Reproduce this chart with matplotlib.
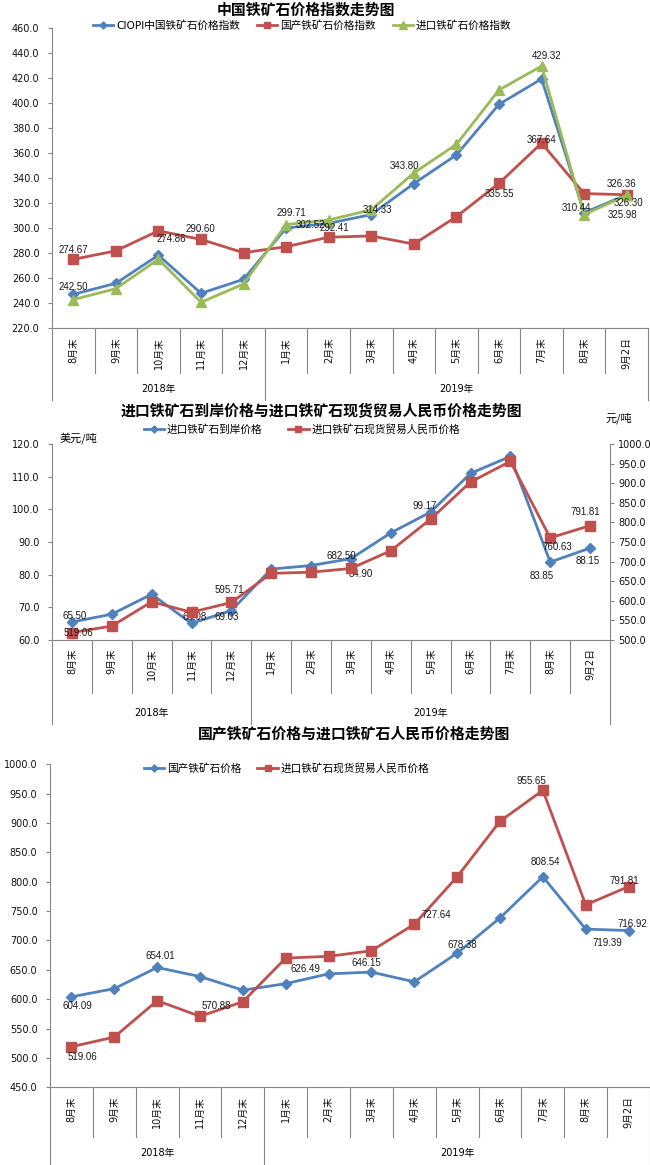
import matplotlib
matplotlib.use('Agg')
import matplotlib.pyplot as plt
from matplotlib.transforms import blended_transform_factory
from matplotlib.ticker import FormatStrFormatter

plt.rcParams['font.family'] = ['DejaVu Sans', 'Noto Sans CJK SC']

W, H = 650, 1165
BLUE = '#4F81BD'
RED = '#C0504D'
GREEN = '#9BBB59'
GRAY = '#868686'

# ---- data ----
months = ['8月末', '9月末', '10月末', '11月末', '12月末', '1月末', '2月末', '3月末',
          '4月末', '5月末', '6月末', '7月末', '8月末', '9月2日']
years = ['2018年', '2019年']

# chart 1: price indices
ciopi = [246.7, 255.5, 278.0, 247.5, 258.7, 299.71, 303.5, 310.5, 335.3, 358.2, 398.7, 419.0, 312.0, 326.30]
domestic_idx = [274.67, 281.5, 297.5, 290.60, 280.0, 284.8, 292.41, 293.4, 286.9, 308.8, 335.55, 367.64, 327.3, 326.36]
import_idx = [242.50, 251.2, 274.86, 240.3, 255.0, 302.52, 306.2, 314.33, 343.80, 366.7, 410.2, 429.32, 310.44, 325.98]

# chart 2/3: prices
cif_usd = [65.50, 67.9, 74.0, 65.08, 69.03, 81.7, 82.8, 84.90, 92.8, 99.17, 111.0, 116.2, 83.85, 88.15]
import_rmb = [519.06, 535.5, 597.5, 570.88, 595.71, 670.0, 673.0, 682.50, 727.64, 808.5, 903.0, 955.65, 760.63, 791.81]
domestic_rmb = [604.09, 618.0, 654.01, 638.6, 615.4, 626.49, 643.2, 646.15, 629.6, 678.38, 738.5, 808.54, 719.39, 716.92]

# which points carry a data label: (series, index, dx px, dy px)
labels1 = [('dom', 0, 0, -9), ('imp', 0, 0, -13), ('imp', 2, 13, -20), ('dom', 3, -1, -10),
           ('ciopi', 5, 5, -15), ('imp', 5, 24, 0), ('dom', 6, 6, -9), ('imp', 7, 6, 0),
           ('imp', 8, -9, -7), ('dom', 10, 0, 11), ('dom', 11, 0, -3), ('imp', 11, 5, -10),
           ('imp', 12, -8, -7), ('dom', 13, -5, -11), ('ciopi', 13, 2, 8), ('imp', 13, -4, 20)]
labels2 = [('usd', 0, 3, -6), ('rmb', 0, 6, 0), ('usd', 3, 3, -6), ('usd', 4, -5, 6),
           ('rmb', 4, -2, -12), ('rmb', 7, -10, -12), ('usd', 7, 10, 15), ('usd', 9, -6, -6),
           ('usd', 12, -9, 14), ('rmb', 12, 7, 9), ('usd', 13, -2, 13), ('rmb', 13, -5, -14)]
labels3 = [('dom', 0, 6, 9), ('imp', 0, 11, 10), ('dom', 2, 3, -11), ('imp', 3, 16, -10),
           ('dom', 5, 20, -15), ('dom', 7, -5, -9), ('imp', 8, 22, -9), ('dom', 9, 5, -8),
           ('dom', 11, 3, -15), ('imp', 11, -11, -9), ('dom', 12, 22, 14), ('dom', 13, 4, -7),
           ('imp', 13, -4, -6)]

fig = plt.figure(figsize=(W / 100, H / 100), dpi=100)


def rect(l, r, t, b):
    return [l / W, 1 - b / H, (r - l) / W, (b - t) / H]


def fy(px):
    return 1 - px / H


def style_axis(ax, lo, hi, step):
    ax.set_xlim(-0.5, len(months) - 0.5)
    ax.set_ylim(lo, hi)
    ax.set_yticks(range(lo, hi + 1, step))
    ax.yaxis.set_major_formatter(FormatStrFormatter('%.1f'))
    for s in ['top', 'right']:
        ax.spines[s].set_visible(False)
    for s in ['left', 'bottom']:
        ax.spines[s].set_color(GRAY)
        ax.spines[s].set_linewidth(0.8)
    ax.tick_params(axis='x', bottom=False, labelbottom=False)
    ax.tick_params(axis='y', direction='out', length=3, width=0.8, color=GRAY,
                   labelsize=7, pad=6, labelcolor='#111111')
    ax.patch.set_alpha(0)


def category_table(ax, top, mid, bottom, label_top, year_y):
    tr = blended_transform_factory(ax.transData, fig.transFigure)
    n = len(months)
    for k in range(n - 1):
        x = k + 0.5
        end = bottom if k == 4 else mid
        ax.plot([x, x], [fy(top), fy(end)], transform=tr, color=GRAY, lw=0.8, clip_on=False)
    for x in [-0.5, n - 0.5]:
        ax.plot([x, x], [fy(top), fy(bottom)], transform=tr, color=GRAY, lw=0.8, clip_on=False)
    for i, m in enumerate(months):
        ax.text(i, fy(label_top), m, transform=tr, rotation=90, ha='center', va='top',
                fontsize=7, color='#111111')
    ax.text(2, fy(year_y), years[0], transform=tr, ha='center', va='center', fontsize=7)
    ax.text(9, fy(year_y), years[1], transform=tr, ha='center', va='center', fontsize=7)


def data_labels(ax, series, items):
    for key, i, dx, dy in items:
        v = series[key][i]
        ax.annotate('%.2f' % v, xy=(i, v), xytext=(dx, -dy), textcoords='offset pixels',
                    ha='center', va='center', fontsize=7, family='Liberation Sans',
                    color='#1a1a1a', zorder=10)


x = list(range(len(months)))

# ---------- chart 1 ----------
ax1 = fig.add_axes(rect(52, 648, 27.7, 327.7))
style_axis(ax1, 220, 460, 20)
l1, = ax1.plot(x, ciopi, color=BLUE, lw=2, marker='D', ms=4.8, label='CIOPI中国铁矿石价格指数')
l2, = ax1.plot(x, domestic_idx, color=RED, lw=2, marker='s', ms=6.5, label='国产铁矿石价格指数')
l3, = ax1.plot(x, import_idx, color=GREEN, lw=2, marker='^', ms=7, label='进口铁矿石价格指数')
data_labels(ax1, {'ciopi': ciopi, 'dom': domestic_idx, 'imp': import_idx}, labels1)
category_table(ax1, 327.7, 373, 400, 337, 389)
fig.text(306 / W, fy(9.5), '中国铁矿石价格指数走势图', ha='center', va='center',
         fontsize=10.7, fontweight='bold', family=['Noto Sans CJK SC'])
fig.legend(handles=[l1, l2, l3], loc='center left', bbox_to_anchor=(93 / W, fy(25.5)),
           ncol=3, frameon=False, fontsize=7.7, handlelength=1.9, handletextpad=0.25,
           columnspacing=1.6, borderpad=0, borderaxespad=0, markerscale=0.75)

# ---------- chart 2 ----------
ax2 = fig.add_axes(rect(52, 610, 444, 640))
style_axis(ax2, 60, 120, 10)
ax2r = ax2.twinx()
ax2r.set_xlim(-0.5, len(months) - 0.5)
ax2r.set_ylim(500, 1000)
ax2r.set_yticks(range(500, 1001, 50))
ax2r.yaxis.set_major_formatter(FormatStrFormatter('%.1f'))
for s in ['top', 'left', 'bottom']:
    ax2r.spines[s].set_visible(False)
ax2r.spines['right'].set_color(GRAY)
ax2r.spines['right'].set_linewidth(0.8)
ax2r.tick_params(axis='y', direction='out', length=3, width=0.8, color=GRAY,
                 labelsize=7, pad=3, labelcolor='#111111')
m1, = ax2.plot(x, cif_usd, color=BLUE, lw=2, marker='D', ms=4.8, label='进口铁矿石到岸价格')
m2, = ax2r.plot(x, import_rmb, color=RED, lw=2, marker='s', ms=6.5, label='进口铁矿石现货贸易人民币价格')
data_labels(ax2, {'usd': cif_usd}, [it for it in labels2 if it[0] == 'usd'])
data_labels(ax2r, {'rmb': import_rmb}, [it for it in labels2 if it[0] == 'rmb'])
category_table(ax2, 640, 693, 724, 648, 713)
fig.text(321 / W, fy(410), '进口铁矿石到岸价格与进口铁矿石现货贸易人民币价格走势图', ha='center',
         va='center', fontsize=10.7, fontweight='bold', family=['Noto Sans CJK SC'])
fig.text(60 / W, fy(438), '美元/吨', ha='left', va='center', fontsize=8, family=['Noto Sans CJK SC'])
fig.text(606 / W, fy(418), '元/吨', ha='left', va='center', fontsize=8, family=['Noto Sans CJK SC'])
fig.legend(handles=[m1, m2], loc='center left', bbox_to_anchor=(144 / W, fy(429)),
           ncol=2, frameon=False, fontsize=7.7, handlelength=1.9, handletextpad=0.25,
           columnspacing=2.4, borderpad=0, borderaxespad=0, markerscale=0.75)

# ---------- chart 3 ----------
ax3 = fig.add_axes(rect(50, 650, 764.3, 1087.3))
style_axis(ax3, 450, 1000, 50)
n1, = ax3.plot(x, domestic_rmb, color=BLUE, lw=2, marker='D', ms=4.8, label='国产铁矿石价格')
n2, = ax3.plot(x, import_rmb, color=RED, lw=2, marker='s', ms=6.5, label='进口铁矿石现货贸易人民币价格')
data_labels(ax3, {'dom': domestic_rmb, 'imp': import_rmb}, labels3)
category_table(ax3, 1087.3, 1137, 1170, 1096, 1153)
fig.text(354 / W, fy(733), '国产铁矿石价格与进口铁矿石人民币价格走势图', ha='center', va='center',
         fontsize=10.7, fontweight='bold', family=['Noto Sans CJK SC'])
fig.legend(handles=[n1, n2], loc='center left', bbox_to_anchor=(144 / W, fy(768)),
           ncol=2, frameon=False, fontsize=7.7, handlelength=1.9, handletextpad=0.25,
           columnspacing=1.5, borderpad=0, borderaxespad=0, markerscale=0.75)

fig.savefig('out.png', dpi=100)
